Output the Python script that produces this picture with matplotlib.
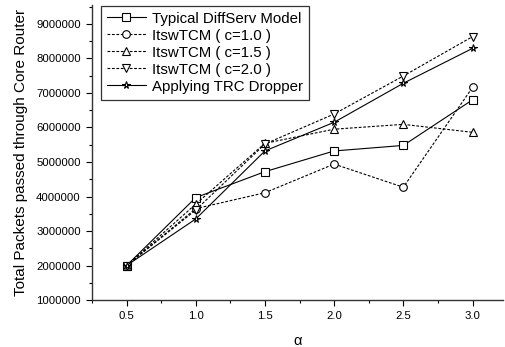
import numpy as np
import matplotlib.pyplot as plt
from matplotlib.ticker import MultipleLocator

plt.rcParams['font.family'] = ['Liberation Sans', 'DejaVu Sans']

# data
alpha = [0.5, 1.0, 1.5, 2.0, 2.5, 3.0]
typical = [2000000, 3970000, 4720000, 5320000, 5480000, 6800000]
c10 = [2000000, 3650000, 4110000, 4940000, 4270000, 7160000]
c15 = [2000000, 3780000, 5540000, 5950000, 6090000, 5860000]
c20 = [2000000, 3610000, 5520000, 6390000, 7490000, 8630000]
trc = [2000000, 3350000, 5320000, 6150000, 7280000, 8290000]

labels = ["Typical DiffServ Model", "ItswTCM ( c=1.0 )", "ItswTCM ( c=1.5 )",
          "ItswTCM ( c=2.0 )", "Applying TRC Dropper"]

fig = plt.figure(figsize=(5.05, 3.47), dpi=100)
ax = fig.add_axes([0.182, 0.135, 0.814, 0.851])

dash = (0, (2.5, 1.5))
kw = dict(color='black', lw=0.8, markersize=5.5, markerfacecolor='white',
          markeredgecolor='black', markeredgewidth=0.8)
ax.plot(alpha, typical, '-', marker='s', label=labels[0], **kw)
ax.plot(alpha, c10, linestyle=dash, marker='o', label=labels[1], **kw)
ax.plot(alpha, c15, linestyle=dash, marker='^', label=labels[2], **kw)
ax.plot(alpha, c20, linestyle=dash, marker='v', label=labels[3], **kw)
ax.plot(alpha, trc, '-', marker='*', label=labels[4], **kw)

ax.set_xlim(0.25, 3.22)
ax.set_ylim(1000000, 9550000)
ax.xaxis.set_minor_locator(MultipleLocator(0.25))
ax.yaxis.set_major_locator(MultipleLocator(1000000))
ax.yaxis.set_minor_locator(MultipleLocator(500000))
ax.set_xticks(alpha)
ax.set_xticklabels(["0.5", "1.0", "1.5", "2.0", "2.5", "3.0"])
ax.yaxis.set_major_formatter(plt.FuncFormatter(lambda v, p: "%d" % v))

for s in ['top', 'right']:
    ax.spines[s].set_visible(False)
for s in ['left', 'bottom']:
    ax.spines[s].set_linewidth(1.0)
    ax.spines[s].set_color('#333333')

ax.tick_params(which='major', direction='out', length=4.5, width=0.8, labelsize=8.2)
ax.tick_params(which='minor', direction='out', length=2.5, width=0.8)

ax.set_xlabel("α", fontsize=10.5, labelpad=9)
ax.set_ylabel("Total Packets passed through Core Router", fontsize=11, labelpad=6)

leg = ax.legend(loc='upper left', bbox_to_anchor=(0.022, 0.997), fontsize=10.8,
                frameon=True, fancybox=False, handlelength=2.6,
                labelspacing=0.2, borderpad=0.4, handletextpad=0.4,
                borderaxespad=0)
leg.get_frame().set_edgecolor('black')
leg.get_frame().set_linewidth(0.9)

fig.savefig("out.png", dpi=100)
